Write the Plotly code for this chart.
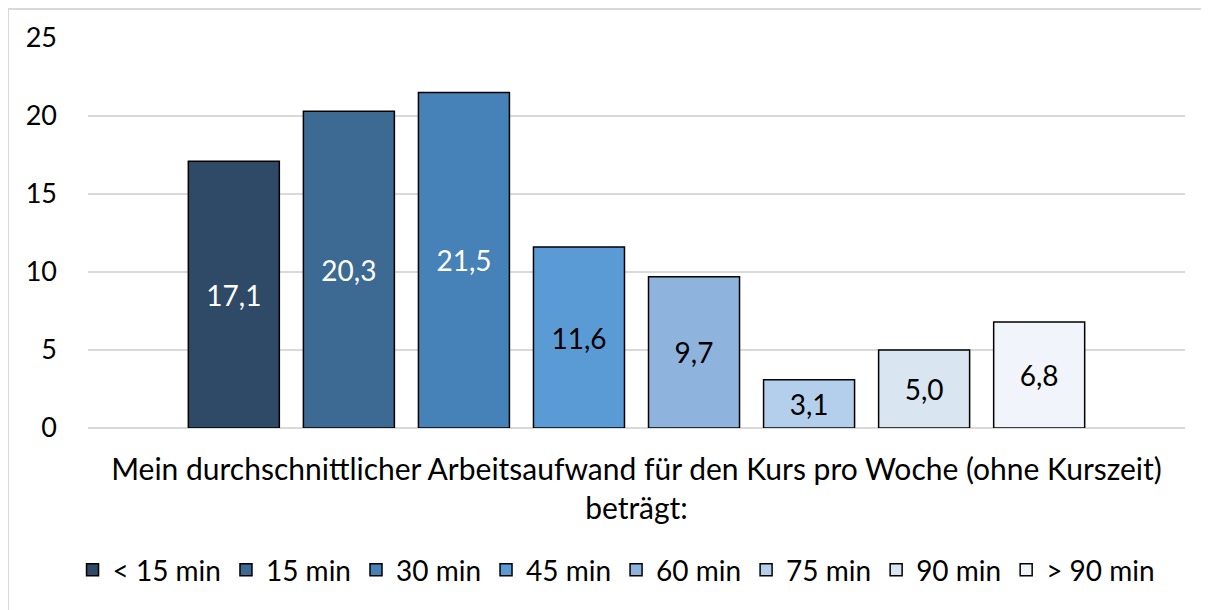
import plotly.graph_objects as go

category = ["Mein durchschnittlicher Arbeitsaufwand für den Kurs pro Woche (ohne Kurszeit)<br>beträgt:"]
series_names = ["< 15 min", "15 min", "30 min", "45 min", "60 min", "75 min", "90 min", "> 90 min"]
values = [17.1, 20.3, 21.5, 11.6, 9.7, 3.1, 5.0, 6.8]
colors = ["#2E4A66", "#3D6A93", "#4681B8", "#5B9BD5", "#8EB4DE", "#B4CFEB", "#DAE5F2", "#F1F5FB"]
text_colors = ["white", "white", "white", "black", "black", "black", "black", "black"]

FONT = "Lato"

fig = go.Figure()
for name, v, c, tc in zip(series_names, values, colors, text_colors):
    fig.add_trace(go.Bar(
        x=category, y=[v], name=name,
        marker=dict(color=c, line=dict(color="black", width=1.5)),
        texttemplate="%{y:.1f}", textposition="inside", insidetextanchor="middle",
        textangle=0,
        textfont=dict(color=tc, size=28, family=FONT),
        hoverinfo="skip",
    ))

# the page places the figure 8px from the top-left corner
W, H = 1201, 602
ml, mr, mt, mb = 80, 24, 30, 182
pw, ph = W - ml - mr, H - mt - mb

fig.update_layout(
    width=W, height=H,
    margin=dict(l=ml, r=mr, t=mt, b=mb),
    paper_bgcolor="white", plot_bgcolor="white",
    separators=", ",
    barmode="group", bargap=0.161, bargroupgap=0.209,
    font=dict(family=FONT, size=27, color="black"),
    showlegend=True,
    legend=dict(orientation="h", x=0.4818, xanchor="center", y=(ph - 562 + mt) / ph, yanchor="middle",
                font=dict(size=28, family=FONT), traceorder="normal",
                itemwidth=30, tracegroupgap=0),
    xaxis=dict(showgrid=False, showline=False, ticks="", ticklabelstandoff=21,
               tickfont=dict(size=30)),
    yaxis=dict(range=[0, 25], dtick=5, showgrid=True, gridcolor="#D9D9D9", gridwidth=1.5,
               zeroline=True, zerolinecolor="#D9D9D9", zerolinewidth=1.5,
               showline=False, ticks="", ticklabelstandoff=30, tickfont=dict(size=27)),
    shapes=[dict(type="rect", xref="paper", yref="paper",
                 x0=(0 - ml) / pw, x1=(W + 20 - ml) / pw,
                 y0=-(H + 20 - mt - ph) / ph, y1=(ph + mt - 1) / ph,
                 line=dict(color="#D9D9D9", width=2), fillcolor="rgba(0,0,0,0)", layer="below")],
)

fig.write_html("out.html")
